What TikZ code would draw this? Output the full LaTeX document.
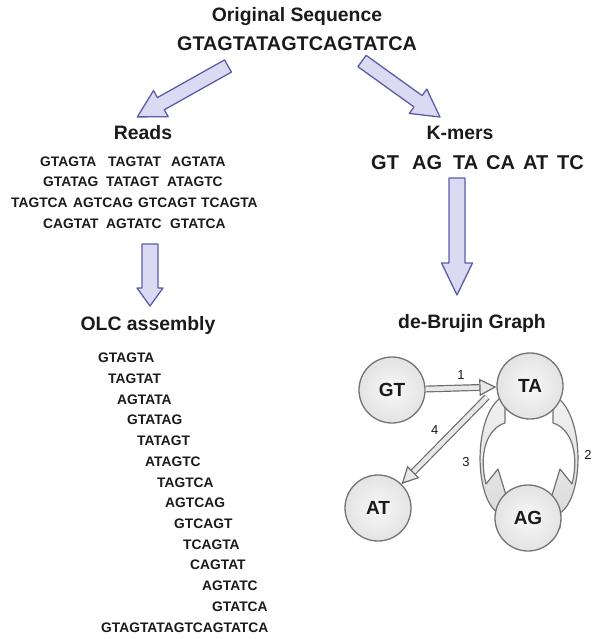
\documentclass[tikz,border=0pt]{standalone}
\usepackage{fontspec}
\setmainfont{Liberation Sans}
\usetikzlibrary{arrows.meta}
\definecolor{arrfill}{RGB}{218,218,242}
\definecolor{arrline}{RGB}{92,92,170}
\definecolor{txt}{RGB}{26,26,26}
% block arrow: tail, angle, length, shaft half width, head half width, head length
\newcommand{\blockarr}[6]{%
  \draw[bigarr,shift={#1},rotate=#2] (0,-#4) -- ({#3-#6},-#4) -- ({#3-#6},-#5) -- (#3,0)
    -- ({#3-#6},#5) -- ({#3-#6},#4) -- (0,#4) -- cycle;}
\begin{document}
\begin{tikzpicture}[x=1pt,y=-1pt,line join=round,
  hd/.style={font=\fontsize{19.4}{22}\selectfont\bfseries,text=txt},
  seq/.style={font=\fontsize{13.8}{16}\selectfont\bfseries,text=txt,anchor=west,inner sep=0pt},
  kseq/.style={font=\fontsize{20}{24}\selectfont\bfseries,text=txt,anchor=west,inner sep=0pt},
  bigarr/.style={draw=arrline,fill=arrfill,line width=1.3pt},
  kmer/.style={circle,draw=gray!90!black,line width=1.3pt,inner color=gray!5,outer color=gray!22,
    minimum size=66pt,font=\fontsize{19}{22}\selectfont\bfseries,text=txt},
  edg/.style={draw=gray!85!black,line width=1.2pt,double=gray!18,double distance=4.5pt,
    -{Triangle[open,fill=gray!18,length=17pt,width=17pt]}},
  band/.style={draw=gray!90!black,line width=1.2pt,top color=gray!10,bottom color=gray!30},
  lbl/.style={font=\fontsize{13}{15}\selectfont,text=txt}]
\useasboundingbox (0,0) rectangle (592,639);

% titles
\path
(297,17) node[hd] (orig) {Original Sequence}
(297,44) node[hd,font=\fontsize{19.8}{22}\selectfont\bfseries] (genome) {GTAGTATAGTCAGTATCA}
(143,133) node[hd] (reads) {Reads}
(460,133) node[hd] (kmers) {K-mers}
(148,325) node[hd] (olc) {OLC assembly}
(472,323) node[hd] (dbg) {de-Brujin Graph}
;

% reads
\foreach \w/\x in {GTAGTA/40,TAGTAT/108,AGTATA/171}
  \node[seq] (ra-\x) at (\x,162) {\w};
\foreach \w/\x in {GTATAG/43,TATAGT/106,ATAGTC/167}
  \node[seq] (rb-\x) at (\x,182) {\w};
\foreach \w/\x in {TAGTCA/11,AGTCAG/73,GTCAGT/138,TCAGTA/201}
  \node[seq] (rc-\x) at (\x,203) {\w};
\foreach \w/\x in {CAGTAT/43,AGTATC/106,GTATCA/170}
  \node[seq] (rd-\x) at (\x,224) {\w};

% k-mers
\foreach \w/\x in {GT/371,AG/412,TA/453,CA/486,AT/523,TC/557}
  \node[kseq] (k-\w) at (\x,163) {\w};

% overlap layout
\foreach \w/\x [count=\i from 0] in {GTAGTA/98,TAGTAT/108,AGTATA/117,GTATAG/127,
    TATAGT/137,ATAGTC/145,TAGTCA/157,AGTCAG/165,GTCAGT/174,TCAGTA/183,
    CAGTAT/190,AGTATC/202,GTATCA/212,GTAGTATAGTCAGTATCA/101}
  \node[seq] (olc\i) at (\x,{358+20.72*\i}) {\w};

% big arrows
\blockarr{(228,66)}{-150.7}{104}{7}{15}{27}
\blockarr{(362,61)}{-35.7}{96}{7}{15}{27}
\blockarr{(150,244)}{-90}{62}{8}{13}{18}
\blockarr{(457,178)}{-90}{117}{8}{15.5}{32}

% loops between TA and AG
\draw[band] (553,395) -- (553,423) .. controls (570,428) and (580,452) .. (572,484)
  -- (560,469) -- (549,505) -- (560,528) -- (560,513)
  .. controls (585,497) and (585,410) .. (553,395) -- cycle;
\begin{scope}[shift={(1058,0)},xscale=-1]
\draw[band] (553,395) -- (553,423) .. controls (570,428) and (580,452) .. (572,484)
  -- (560,469) -- (549,505) -- (560,528) -- (560,513)
  .. controls (585,497) and (585,410) .. (553,395) -- cycle;
\end{scope}

% graph
\node[kmer] (GT) at (392,390) {GT};
\node[kmer] (TA) at (530,386) {TA};
\node[kmer] (AT) at (378,508) {AT};
\node[kmer] (AG) at (528,518) {AG};
\coordinate (t4) at (487,397);

\draw[edg] (GT) -- (TA) node[lbl,midway,above=5pt] (l1) {1};
\draw[edg] (t4) -- (AT) node[lbl,midway,above left=2pt] (l4) {4};
\node[lbl] (l2) at (588,455) {2};
\node[lbl] (l3) at (466,462) {3};
\end{tikzpicture}
\end{document}
